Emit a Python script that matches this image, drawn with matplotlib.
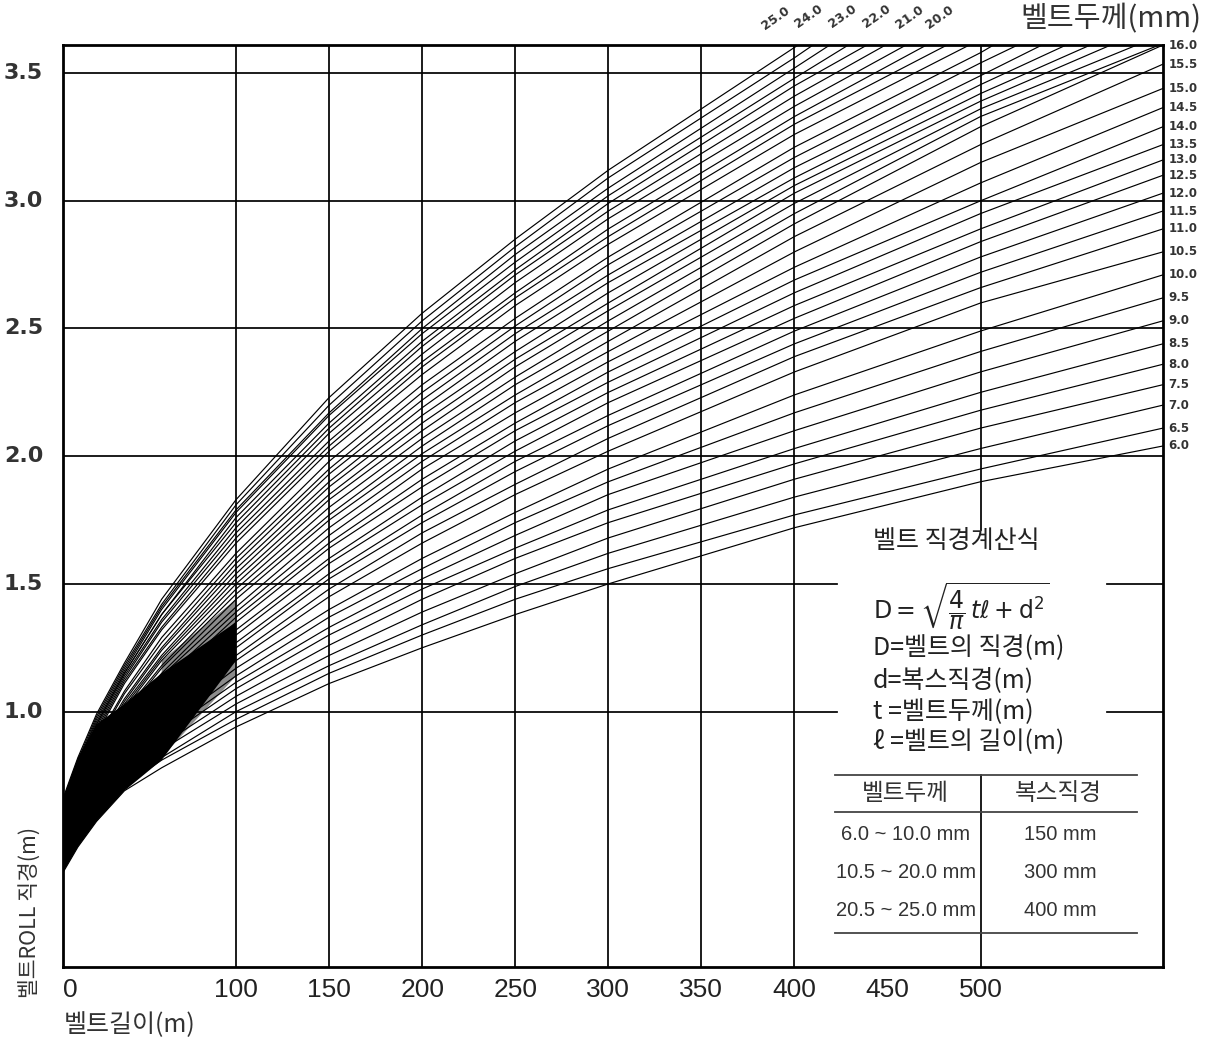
import matplotlib
matplotlib.use("Agg")
import matplotlib.pyplot as plt

W, H = 1208, 1040
KR = ["Noto Sans CJK KR", "DejaVu Sans"]
NUM = ["Liberation Sans", "DejaVu Sans"]
BOLD = ["DejaVu Sans"]

# belt thickness of each curve (mm)
thick = [6.0, 6.5, 7.0, 7.5, 8.0, 8.5, 9.0, 9.5, 10.0,
         10.5, 11.0, 11.5, 12.0, 12.5, 13.0, 13.5, 14.0, 14.5, 15.0, 15.5,
         16.0, 16.5, 17.0, 17.5, 18.0, 18.5, 19.0, 19.5, 20.0,
         20.5, 21.0, 21.5, 22.0, 22.5, 23.0, 23.5, 24.0, 24.5, 25.0]

# belt length (m) at which the roll diameter was read
length = [7, 15, 25, 40, 60, 100, 150, 200, 250, 300, 400, 500, 598]

# roll diameter (m), one row per thickness
diam = [
    [0.37, 0.47, 0.57, 0.69, 0.78, 0.94, 1.11, 1.25, 1.38, 1.50, 1.72, 1.90, 2.04],
    [0.38, 0.48, 0.58, 0.71, 0.81, 0.97, 1.15, 1.30, 1.44, 1.56, 1.77, 1.95, 2.11],
    [0.39, 0.49, 0.59, 0.72, 0.82, 1.00, 1.18, 1.34, 1.49, 1.62, 1.84, 2.03, 2.20],
    [0.40, 0.50, 0.61, 0.74, 0.85, 1.03, 1.22, 1.39, 1.54, 1.68, 1.91, 2.11, 2.28],
    [0.41, 0.51, 0.62, 0.75, 0.87, 1.06, 1.26, 1.44, 1.60, 1.74, 1.97, 2.18, 2.36],
    [0.42, 0.53, 0.64, 0.77, 0.89, 1.09, 1.30, 1.48, 1.64, 1.79, 2.03, 2.25, 2.44],
    [0.42, 0.53, 0.65, 0.79, 0.91, 1.115, 1.33, 1.52, 1.69, 1.85, 2.10, 2.33, 2.53],
    [0.43, 0.54, 0.66, 0.80, 0.93, 1.14, 1.37, 1.56, 1.74, 1.90, 2.17, 2.41, 2.62],
    [0.44, 0.56, 0.67, 0.82, 0.95, 1.17, 1.40, 1.60, 1.78, 1.95, 2.24, 2.49, 2.71],
    [0.48, 0.60, 0.72, 0.87, 0.99, 1.20, 1.45, 1.66, 1.85, 2.02, 2.33, 2.60, 2.80],
    [0.49, 0.61, 0.73, 0.88, 1.01, 1.22, 1.48, 1.70, 1.89, 2.07, 2.39, 2.66, 2.89],
    [0.49, 0.61, 0.74, 0.89, 1.02, 1.25, 1.52, 1.74, 1.94, 2.12, 2.44, 2.72, 2.96],
    [0.50, 0.62, 0.75, 0.90, 1.04, 1.27, 1.54, 1.77, 1.98, 2.16, 2.49, 2.78, 3.03],
    [0.50, 0.62, 0.75, 0.91, 1.06, 1.30, 1.58, 1.81, 2.02, 2.21, 2.54, 2.84, 3.10],
    [0.51, 0.63, 0.76, 0.92, 1.07, 1.32, 1.60, 1.84, 2.06, 2.25, 2.59, 2.89, 3.16],
    [0.51, 0.64, 0.77, 0.93, 1.09, 1.35, 1.64, 1.88, 2.10, 2.29, 2.64, 2.95, 3.22],
    [0.52, 0.65, 0.78, 0.94, 1.10, 1.37, 1.66, 1.91, 2.13, 2.33, 2.69, 3.00, 3.29],
    [0.52, 0.65, 0.78, 0.95, 1.12, 1.39, 1.69, 1.95, 2.17, 2.37, 2.74, 3.07, 3.365],
    [0.53, 0.66, 0.80, 0.97, 1.14, 1.41, 1.72, 1.98, 2.21, 2.41, 2.80, 3.15, 3.44],
    [0.53, 0.67, 0.81, 0.98, 1.15, 1.44, 1.75, 2.01, 2.24, 2.45, 2.86, 3.22, 3.535],
    [0.54, 0.68, 0.82, 0.99, 1.17, 1.46, 1.77, 2.04, 2.28, 2.49, 2.91, 3.29, 3.61],
    [0.54, 0.68, 0.82, 1.00, 1.18, 1.48, 1.80, 2.07, 2.31, 2.53, 2.95, 3.33],
    [0.55, 0.69, 0.83, 1.01, 1.20, 1.50, 1.83, 2.10, 2.35, 2.57, 2.99, 3.36],
    [0.55, 0.69, 0.84, 1.02, 1.21, 1.52, 1.85, 2.13, 2.38, 2.60, 3.03, 3.39],
    [0.56, 0.70, 0.85, 1.03, 1.22, 1.54, 1.88, 2.16, 2.41, 2.64, 3.06, 3.42],
    [0.56, 0.71, 0.86, 1.04, 1.24, 1.56, 1.90, 2.19, 2.45, 2.68, 3.09, 3.455],
    [0.57, 0.72, 0.87, 1.05, 1.25, 1.58, 1.93, 2.22, 2.48, 2.71, 3.13, 3.49],
    [0.57, 0.72, 0.88, 1.07, 1.27, 1.60, 1.95, 2.25, 2.51, 2.75, 3.17, 3.54],
    [0.58, 0.73, 0.89, 1.08, 1.29, 1.62, 1.98, 2.28, 2.54, 2.78, 3.21, 3.58],
    [0.60, 0.76, 0.91, 1.11, 1.32, 1.66, 2.02, 2.32, 2.59, 2.83, 3.26],
    [0.61, 0.77, 0.92, 1.12, 1.33, 1.68, 2.04, 2.35, 2.62, 2.86, 3.30],
    [0.61, 0.77, 0.93, 1.13, 1.35, 1.70, 2.06, 2.37, 2.64, 2.89, 3.33],
    [0.62, 0.78, 0.94, 1.14, 1.36, 1.72, 2.09, 2.40, 2.68, 2.93, 3.37],
    [0.62, 0.78, 0.95, 1.15, 1.38, 1.74, 2.11, 2.43, 2.71, 2.96, 3.41],
    [0.63, 0.79, 0.95, 1.15, 1.38, 1.76, 2.13, 2.45, 2.73, 2.99, 3.45],
    [0.64, 0.80, 0.96, 1.16, 1.40, 1.78, 2.16, 2.48, 2.76, 3.02, 3.48],
    [0.64, 0.80, 0.97, 1.17, 1.41, 1.79, 2.17, 2.50, 2.79, 3.05, 3.52],
    [0.65, 0.81, 0.98, 1.18, 1.42, 1.81, 2.20, 2.53, 2.82, 3.09, 3.56],
    [0.66, 0.82, 0.99, 1.19, 1.44, 1.83, 2.23, 2.56, 2.85, 3.12],
]

# curves that leave through the top edge: length (m) where they cross it
exit_thick = [16.5, 17.0, 17.5, 18.0, 18.5, 19.0, 19.5, 20.0,
              20.5, 21.0, 21.5, 22.0, 22.5, 23.0, 23.5, 24.0, 24.5, 25.0]
exit_len = [596, 584, 570, 559, 546, 533, 520, 507,
            494, 482, 471, 460, 449, 439, 429, 419, 410, 402]

top_labels = [25.0, 24.0, 23.0, 22.0, 21.0, 20.0]

x_ticks = [100, 150, 200, 250, 300, 350, 400, 450, 500]
x_grid = [100, 150, 200, 250, 300, 350, 400]
y_ticks = [1.0, 1.5, 2.0, 2.5, 3.0, 3.5]

table_head = ["벨트두께", "복스직경"]
table_rows = [["6.0 ~ 10.0 mm", "150 mm"],
              ["10.5 ~ 20.0 mm", "300 mm"],
              ["20.5 ~ 25.0 mm", "400 mm"]]

XMIN, XMAX, YMAX = 7, 598, 3.61
# axes box in pixels
L, R, T, B = 63, 1163, 45, 967


def fx(px):  # pixel -> belt length
    return XMIN + (px - L) * (XMAX - XMIN) / (R - L)


def fy(py):  # pixel -> diameter
    return (B - py) * YMAX / (B - T)


def fig_xy(px, py):
    return px / W, 1 - py / H


fig = plt.figure(figsize=(W / 100, H / 100), dpi=100)
ax = fig.add_axes([L / W, 1 - B / H, (R - L) / W, (B - T) / H])
ax.set_xlim(XMIN, XMAX)
ax.set_ylim(0, YMAX)
ax.set_xticks([])
ax.set_yticks([])
for s in ax.spines.values():
    s.set_linewidth(2.0)

# grid (broken where the formula box and table sit)
gk = dict(color="black", lw=1.25, zorder=1)
for g in x_grid:
    ax.plot([g, g], [0, YMAX], **gk)
ax.plot([500, 500], [0, fy(775)], **gk)
ax.plot([500, 500], [fy(530), YMAX], **gk)
for g in y_ticks:
    if g in (1.0, 1.5):
        ax.plot([XMIN, fx(837)], [g, g], **gk)
        ax.plot([fx(1107), XMAX], [g, g], **gk)
    else:
        ax.plot([XMIN, XMAX], [g, g], **gk)

# curves
row_of = dict(zip(thick, diam))
for t, row in zip(thick, diam):
    xs = length[:len(row)]
    ys = list(row)
    if t in exit_thick:
        xs = xs + [exit_len[exit_thick.index(t)]]
        ys = ys + [YMAX]
    ax.plot(xs, ys, color="black", lw=0.85, zorder=2)
    if t not in exit_thick:
        ax.annotate(f"{t:.1f}", xy=(XMAX, row[-1]), xytext=(4, 0),
                    textcoords="offset points", va="center", ha="left",
                    fontsize=8.5, fontweight="bold", color="#333333",
                    family=BOLD, annotation_clip=False)


def smear(upper, lower, **kw):
    # polygon bounded by given (column index, thickness) points
    xs = [length[i] for i, _ in upper] + [length[i] for i, _ in lower[::-1]]
    ys = [row_of[t][i] for i, t in upper] + [row_of[t][i] for i, t in lower[::-1]]
    ax.fill(xs, ys, lw=0, zorder=2, **kw)


# ink-filled dense part of the fan near the origin
smear([(4, 17.0), (5, 15.5)],
      [(4, 7.0), (5, 9.5)],
      color="black", alpha=0.45)
smear([(0, 25.0), (1, 25.0), (2, 23.0), (3, 18.0), (4, 15.5), (5, 13.5)],
      [(0, 6.0), (1, 6.0), (2, 6.0), (3, 6.0), (4, 6.5), (5, 10.5)],
      color="black")

# top thickness labels
for v, (px, py) in zip(top_labels, [(776, 18), (809, 16), (843, 16),
                                     (877, 16), (910, 17), (940, 17)]):
    fig.text(*fig_xy(px, py), f"{v:.1f}", ha="center", va="center",
             rotation=35, fontsize=9, fontweight="bold", color="#333333",
             family=BOLD)

# tick labels
for v in y_ticks:
    fig.text(*fig_xy(4, B - v * (B - T) / YMAX), f"{v:.1f}", ha="left",
             va="center", fontsize=16, fontweight="bold", color="#333333",
             family=BOLD)
fig.text(*fig_xy(70, 990), "0", ha="center", va="center", fontsize=19,
         color="#222222", family=NUM)
for v in x_ticks:
    px = L + (v - XMIN) * (R - L) / (XMAX - XMIN)
    fig.text(*fig_xy(px, 990), str(v), ha="center", va="center",
             fontsize=19, color="#222222", family=NUM)

fig.text(*fig_xy(1201, 19), "벨트두께(mm)", ha="right", va="center",
         fontsize=21, color="#333333", family=KR)
fig.text(*fig_xy(64, 1025), "벨트길이(m)", ha="left", va="center",
         fontsize=18, color="#333333", family=KR)
fig.text(*fig_xy(30, 912), "벨트ROLL 직경(m)", ha="center", va="center",
         rotation=90, fontsize=15.5, color="#333333", family=KR)

# formula block
fk = dict(ha="left", va="center", fontsize=18, color="#222222", family=KR)
fig.text(*fig_xy(873, 541), "벨트 직경계산식", **fk)
fig.text(*fig_xy(873, 607), r"$\mathrm{D}=\sqrt{\dfrac{4}{\pi}\,t\ell+\mathrm{d}^2}$",
         ha="left", va="center", fontsize=17, color="#222222")
fig.text(*fig_xy(873, 647), "D=벨트의 직경(m)", **fk)
fig.text(*fig_xy(873, 680), "d=복스직경(m)", **fk)
fig.text(*fig_xy(873, 712), "t =벨트두께(m)", **fk)
fig.text(*fig_xy(873, 742), "ℓ =벨트의 길이(m)", **fk)

# table
tk = dict(color="#444444", lw=1.3, zorder=3)
ax.plot([fx(835), fx(1137)], [fy(775), fy(775)], **tk)
ax.plot([fx(835), fx(1137)], [fy(812), fy(812)], **tk)
ax.plot([fx(835), fx(1137)], [fy(933), fy(933)], **tk)
fig.text(*fig_xy(905, 793), table_head[0], ha="center", va="center",
         fontsize=17, color="#333333", family=KR)
fig.text(*fig_xy(1058, 793), table_head[1], ha="center", va="center",
         fontsize=17, color="#333333", family=KR)
for (a, b), py in zip(table_rows, [834, 872, 911]):
    fig.text(*fig_xy(906, py), a, ha="center", va="center", fontsize=14.5,
             color="#333333", family=NUM)
    fig.text(*fig_xy(1060, py), b, ha="center", va="center", fontsize=14.5,
             color="#333333", family=NUM)

fig.savefig("out.png", dpi=100)
